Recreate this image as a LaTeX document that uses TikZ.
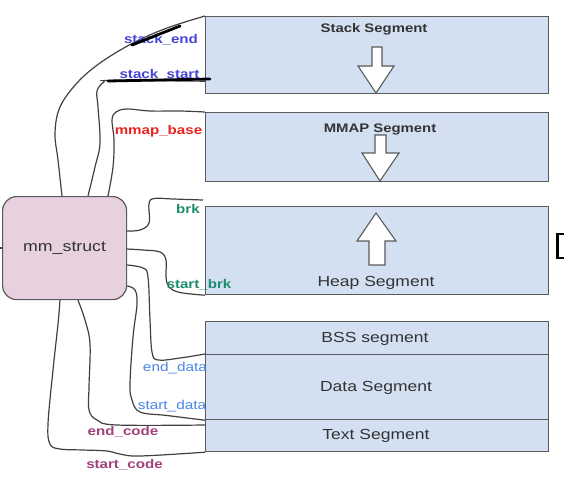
\documentclass[tikz,border=0pt]{standalone}
\usepackage{fontspec}
\setmainfont{Liberation Sans}[FakeStretch=1.2]
\usetikzlibrary{calc}
\definecolor{segfill}{HTML}{D3E0F2}
\definecolor{segdraw}{HTML}{5A5A5A}
\definecolor{mmfill}{HTML}{E7D1DF}
\definecolor{stackblue}{HTML}{4545D8}
\definecolor{mmapred}{HTML}{E8221E}
\definecolor{brkgreen}{HTML}{1F8C6E}
\definecolor{datablue}{HTML}{4A86E8}
\definecolor{codepurple}{HTML}{A3417A}
\definecolor{wirecol}{HTML}{404040}
\definecolor{segtext}{HTML}{333333}
\tikzset{
  segbox/.style={draw=segdraw, fill=segfill, line width=1.2pt, minimum width=343pt, inner sep=0pt, anchor=north west},
  mmbox/.style={draw=segdraw, fill=mmfill, line width=1.2pt, rounded corners=14pt, minimum width=124pt, minimum height=103pt, inner sep=0pt, anchor=north west, text=segtext, font=\fontsize{14.8}{16}\selectfont},
  segname/.style={inner sep=0pt, text=segtext, font=\fontsize{14.6}{16}\selectfont},
  segbold/.style={inner sep=0pt, text=segtext, font=\fontsize{12.4}{14}\selectfont\bfseries},
  lblbold/.style={inner sep=0pt, font=\fontsize{12.6}{14}\selectfont\bfseries},
  lblreg/.style={inner sep=0pt, font=\fontsize{12.8}{14}\selectfont},
  wire/.style={draw=wirecol, line width=1.2pt},
  blockarrow/.style={draw=segdraw, fill=white, line width=1.1pt, line join=miter},
  marker/.style={draw=black, line width=2.8pt, line cap=round}
}
\begin{document}
\begin{tikzpicture}[x=1pt,y=-1pt]
\useasboundingbox (0,0) rectangle (564,477);

% segment boxes
\node[segbox, minimum height=77pt] (stack) at (205,16) {};
\node[segbox, minimum height=69pt] (mmap) at (205,112) {};
\node[segbox, minimum height=88pt] (heap) at (205,206) {};
\node[segbox, minimum height=33pt] (bss) at (205,321) {};
\node[segbox, minimum height=65pt] (data) at (205,354) {};
\node[segbox, minimum height=32pt] (text) at (205,419) {};

% segment names
\node[segbold] (tstack) at (374,29) {Stack Segment};
\node[segbold] (tmmap) at (380,129) {MMAP Segment};
\node[segname] (theap) at (376,282.5) {Heap Segment};
\node[segname] (tbss) at (375,339) {BSS segment};
\node[segname] (tdata) at (376,388) {Data Segment};
\node[segname] (ttext) at (376,436) {Text Segment};

% block arrows
\draw[blockarrow] (372,47) -- (382,47) -- (382,66) -- (394,66) -- (376,93) -- (358,66) -- (372,66) -- cycle;
\draw[blockarrow] (375,135) -- (386,135) -- (386,153) -- (399,153) -- (380,181) -- (362,153) -- (375,153) -- cycle;
\draw[blockarrow] (369,265) -- (385,265) -- (385,241) -- (396,241) -- (376,213) -- (357,241) -- (369,241) -- cycle;

% mm_struct
\node[mmbox] (mm) at (2,196) {\raisebox{-1.5pt}{mm\_struct}};
\draw[wire] (0,248) -- (mm.west |- 0,248);

% wire endpoints
\coordinate (w1s) at ($(mm.north west)+(60,0)$);
\coordinate (w2s) at ($(mm.north west)+(86,0)$);
\coordinate (w3s) at ($(mm.north west)+(106,0)$);
\coordinate (w4s) at ($(mm.north east)+(0,35)$);
\coordinate (w5s) at ($(mm.north east)+(0,53)$);
\coordinate (w6s) at ($(mm.north east)+(0,69)$);
\coordinate (w7s) at ($(mm.north east)+(0,90)$);
\coordinate (w8s) at ($(mm.south west)+(76,0)$);
\coordinate (w9s) at ($(mm.south west)+(58,0)$);
\coordinate (w1e) at (stack.north west);
\coordinate (w2e) at ($(stack.south west)+(0,-13)$);
\coordinate (w3e) at (mmap.north west);
\coordinate (w4e) at ($(heap.north west)+(-2,-6)$);
\coordinate (w5e) at (heap.south west);
\coordinate (w6e) at (data.north west);
\coordinate (w7e) at (data.south west);
\coordinate (w8e) at ($(text.north west)+(0,6)$);
\coordinate (w9e) at (text.south west);

% wires
\draw[wire] plot[smooth, tension=0.6] coordinates {(w1s) (58,160) (55,133) (60,107) (77,83) (100,63) (133,43) (167,28) (w1e)};
\draw[wire] plot[smooth, tension=0.6] coordinates {(w2s) (95,167) (100,143) (98,107) (97,91) (104,82) (112,80.5) (w2e)};
\draw[wire] plot[smooth, tension=0.6] coordinates {(w3s) (113,167) (114,140) (112,120) (116,112) (127,109) (150,111) (180,111) (w3e)};
\draw[wire] plot[smooth, tension=0.6] coordinates {(w4s) (140,230) (149,223) (149,204) (154,198.5) (173,199) (w4e)};
\draw[wire] plot[smooth, tension=0.6] coordinates {(w5s) (143,250) (160,252) (166,260) (166,277) (169,287) (180,292.5) (w5e)};
\draw[wire] plot[smooth, tension=0.6] coordinates {(w6s) (143,268) (148,277) (150,320) (152,352) (158,360) (180,358) (w6e)};
\draw[wire] plot[smooth, tension=0.6] coordinates {(w7s) (135,290) (137,304) (133,337) (130,384) (132,400) (140,412) (167,415.5) (w7e)};
\draw[wire] plot[smooth, tension=0.6] coordinates {(w8s) (85,320) (90,344) (89,387) (89,410) (97,420) (117,425) (w8e)};
\draw[wire] plot[smooth, tension=0.6] coordinates {(w9s) (58,324) (53,370) (48,424) (50,444) (60,449) (83,450) (107,451) (120,454) (140,456) (w9e)};

% labels
\node[lblbold, text=stackblue] (lse) at (161,39.5) {stack\_end};
\node[lblbold, text=stackblue] (lss) at (159.5,74.5) {stack\_start};
\node[lblbold, text=mmapred] (lmb) at (158.5,131.5) {mmap\_base};
\node[lblbold, text=brkgreen] (lbrk) at (188,208.5) {brk};
\node[lblbold, text=brkgreen] (lsb) at (199,284.5) {start\_brk};
\node[lblreg, text=datablue] (led) at (175,368.5) {end\_data};
\node[lblreg, text=datablue] (lsd) at (172,406.5) {start\_data};
\node[lblbold, text=codepurple] (lec) at (123,431.5) {end\_code};
\node[lblbold, text=codepurple] (lsc) at (124.5,464.5) {start\_code};

% black marks
\draw[marker] (132,45) -- (180,26);
\draw[marker] (108,81) -- (210,79);

% bracket at right edge
\draw[line width=2.5pt] (564,234) -- (557.5,234) -- (557.5,258) -- (564,258);
\end{tikzpicture}
\end{document}
